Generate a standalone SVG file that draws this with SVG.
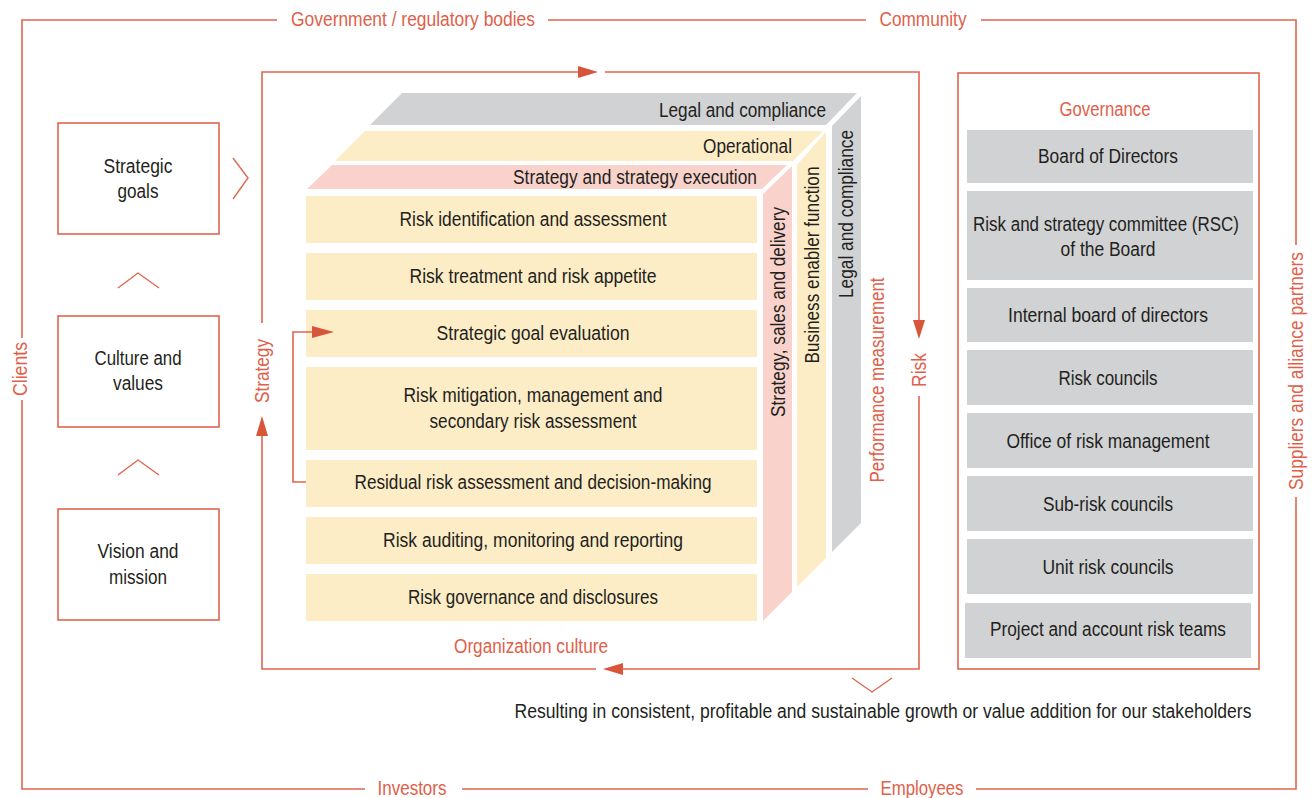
<svg xmlns="http://www.w3.org/2000/svg" width="1314" height="798" viewBox="0 0 1314 798">
<defs>
<style>
.t{font-family:"Liberation Sans",Arial,sans-serif;font-size:20px;fill:#231F20;text-anchor:middle}
.r{font-family:"Liberation Sans",Arial,sans-serif;font-size:20px;fill:#E0604A;text-anchor:middle}
.e{text-anchor:end}
.ln{fill:none;stroke:#E0664F;stroke-width:1.6}
.ah{fill:#D9553A}
.box{fill:#fff;stroke:#E0664F;stroke-width:1.6}
.row{fill:#FDEDC7}
.pk{fill:#F9D3CB}
.gy{fill:#D1D2D4}
.ch{fill:none;stroke:#E0664F;stroke-width:1.4}
</style>
</defs>
<rect width="1314" height="798" fill="#fff"/>

<g id="outer-frame">
<path class="ln" d="M277,20 H22 V338 M22,400 V789 H365 M462,789 H868 M976,789 H1296 V497 M1296,245 V20 H981 M866,20 H548"/>
<text class="r" x="413" y="26" textLength="244" lengthAdjust="spacingAndGlyphs">Government / regulatory bodies</text>
<text class="r" x="923" y="26" textLength="87" lengthAdjust="spacingAndGlyphs">Community</text>
<text class="r" x="412" y="795" textLength="69" lengthAdjust="spacingAndGlyphs">Investors</text>
<text class="r" x="922" y="795" textLength="83" lengthAdjust="spacingAndGlyphs">Employees</text>
<text class="r" transform="translate(20,369) rotate(-90)" dy="7" textLength="54" lengthAdjust="spacingAndGlyphs">Clients</text>
<text class="r" transform="translate(1296,371) rotate(-90)" dy="7" textLength="238" lengthAdjust="spacingAndGlyphs">Suppliers and alliance partners</text>
</g>

<g id="left-goals">
<rect class="box" x="58" y="123" width="161" height="111"/>
<text class="t" x="138" y="173" textLength="69" lengthAdjust="spacingAndGlyphs">Strategic</text>
<text class="t" x="138" y="198" textLength="41" lengthAdjust="spacingAndGlyphs">goals</text>
</g>
<g id="left-culture">
<rect class="box" x="58" y="316" width="161" height="111"/>
<text class="t" x="138" y="365" textLength="87" lengthAdjust="spacingAndGlyphs">Culture and</text>
<text class="t" x="138" y="390" textLength="50" lengthAdjust="spacingAndGlyphs">values</text>
</g>
<g id="left-vision">
<rect class="box" x="58" y="509" width="161" height="111"/>
<text class="t" x="138" y="558" textLength="81" lengthAdjust="spacingAndGlyphs">Vision and</text>
<text class="t" x="138" y="584" textLength="58" lengthAdjust="spacingAndGlyphs">mission</text>
</g>
<g id="chevrons">
<path class="ch" d="M118,288 L138,273 L159,288"/>
<path class="ch" d="M118,475 L138,460 L159,475"/>
<path class="ch" d="M233,158 L248,178 L233,199"/>
<path class="ch" d="M852,678 L872,692 L892,678"/>
</g>

<g id="cube-top">
<polygon class="gy" points="370,125 402,93 857,93 826,125"/>
<polygon class="row" points="335,161 365,131 823,131 793,161"/>
<polygon class="pk" points="307,189 332,165 787,165 762,189"/>
<text class="t e" x="826" y="117" textLength="167" lengthAdjust="spacingAndGlyphs">Legal and compliance</text>
<text class="t e" x="792" y="153" textLength="89" lengthAdjust="spacingAndGlyphs">Operational</text>
<text class="t e" x="757" y="184" textLength="244" lengthAdjust="spacingAndGlyphs">Strategy and strategy execution</text>
</g>
<g id="cube-side">
<polygon class="pk" points="763,194 792,166 792,592 763,621"/>
<polygon class="row" points="797,165 826,132 826,558 797,587"/>
<polygon class="gy" points="832,126 861,96 861,523 832,552"/>
<text class="t" transform="translate(778,312) rotate(-90)" dy="7" textLength="210" lengthAdjust="spacingAndGlyphs">Strategy, sales and delivery</text>
<text class="t" transform="translate(812,265) rotate(-90)" dy="7" textLength="197" lengthAdjust="spacingAndGlyphs">Business enabler function</text>
<text class="t" transform="translate(846,214) rotate(-90)" dy="7" textLength="168" lengthAdjust="spacingAndGlyphs">Legal and compliance</text>
</g>
<g id="row1"><rect class="row" x="306" y="196" width="451" height="47"/><text class="t" x="533" y="226" textLength="267" lengthAdjust="spacingAndGlyphs">Risk identification and assessment</text></g>
<g id="row2"><rect class="row" x="306" y="253" width="451" height="47"/><text class="t" x="533" y="283" textLength="247" lengthAdjust="spacingAndGlyphs">Risk treatment and risk appetite</text></g>
<g id="row3"><rect class="row" x="306" y="310" width="451" height="47"/><text class="t" x="533" y="340" textLength="193" lengthAdjust="spacingAndGlyphs">Strategic goal evaluation</text></g>
<g id="row4"><rect class="row" x="306" y="367" width="451" height="83"/><text class="t" x="533" y="402" textLength="259" lengthAdjust="spacingAndGlyphs">Risk mitigation, management and</text><text class="t" x="533" y="428" textLength="207" lengthAdjust="spacingAndGlyphs">secondary risk assessment</text></g>
<g id="row5"><rect class="row" x="306" y="460" width="451" height="47"/><text class="t" x="533" y="489" textLength="357" lengthAdjust="spacingAndGlyphs">Residual risk assessment and decision-making</text></g>
<g id="row6"><rect class="row" x="306" y="517" width="451" height="47"/><text class="t" x="533" y="547" textLength="300" lengthAdjust="spacingAndGlyphs">Risk auditing, monitoring and reporting</text></g>
<g id="row7"><rect class="row" x="306" y="574" width="451" height="47"/><text class="t" x="533" y="604" textLength="250" lengthAdjust="spacingAndGlyphs">Risk governance and disclosures</text></g>

<g id="connectors">
<path class="ln" d="M262,323 V72 H578 M605,72 H919 V320 M919,396 V669 H623 M596,669 H262 V436"/>
<polygon class="ah" points="578,66 598,72 578,78"/>
<polygon class="ah" points="913,320 925,320 919,339"/>
<polygon class="ah" points="623,663 623,675 603,669"/>
<polygon class="ah" points="256,436 268,436 262,416"/>
<path class="ln" d="M306,482 H293 V332 H312"/>
<polygon class="ah" points="312,326 334,332 312,338"/>
</g>
<g id="loop-labels">
<text class="r" transform="translate(262,371) rotate(-90)" dy="7" textLength="64" lengthAdjust="spacingAndGlyphs">Strategy</text>
<text class="r" transform="translate(919,370) rotate(-90)" dy="7" textLength="34" lengthAdjust="spacingAndGlyphs">Risk</text>
<text class="r" transform="translate(877,380) rotate(-90)" dy="7" textLength="205" lengthAdjust="spacingAndGlyphs">Performance measurement</text>
<text class="r" x="531" y="653" textLength="154" lengthAdjust="spacingAndGlyphs">Organization culture</text>
</g>

<g id="governance">
<rect class="box" x="958" y="73" width="301" height="596"/>
<text class="r" x="1105" y="116" textLength="91" lengthAdjust="spacingAndGlyphs">Governance</text>
<rect class="gy" x="967" y="130" width="286" height="53"/><text class="t" x="1108" y="163" textLength="140" lengthAdjust="spacingAndGlyphs">Board of Directors</text>
<rect class="gy" x="967" y="191" width="286" height="89"/><text class="t" x="1106" y="231" textLength="266" lengthAdjust="spacingAndGlyphs">Risk and strategy committee (RSC)</text><text class="t" x="1108" y="256" textLength="95" lengthAdjust="spacingAndGlyphs">of the Board</text>
<rect class="gy" x="967" y="288" width="286" height="54"/><text class="t" x="1108" y="322" textLength="200" lengthAdjust="spacingAndGlyphs">Internal board of directors</text>
<rect class="gy" x="967" y="350" width="286" height="55"/><text class="t" x="1108" y="385" textLength="99" lengthAdjust="spacingAndGlyphs">Risk councils</text>
<rect class="gy" x="967" y="413" width="286" height="55"/><text class="t" x="1108" y="448" textLength="203" lengthAdjust="spacingAndGlyphs">Office of risk management</text>
<rect class="gy" x="967" y="476" width="286" height="55"/><text class="t" x="1108" y="511" textLength="130" lengthAdjust="spacingAndGlyphs">Sub-risk councils</text>
<rect class="gy" x="967" y="539" width="286" height="55"/><text class="t" x="1108" y="574" textLength="131" lengthAdjust="spacingAndGlyphs">Unit risk councils</text>
<rect class="gy" x="965" y="603" width="286" height="55"/><text class="t" x="1108" y="636" textLength="236" lengthAdjust="spacingAndGlyphs">Project and account risk teams</text>
</g>

<g id="result">
<text class="t" x="883" y="718" textLength="737" lengthAdjust="spacingAndGlyphs">Resulting in consistent, profitable and sustainable growth or value addition for our stakeholders</text>
</g>
</svg>
